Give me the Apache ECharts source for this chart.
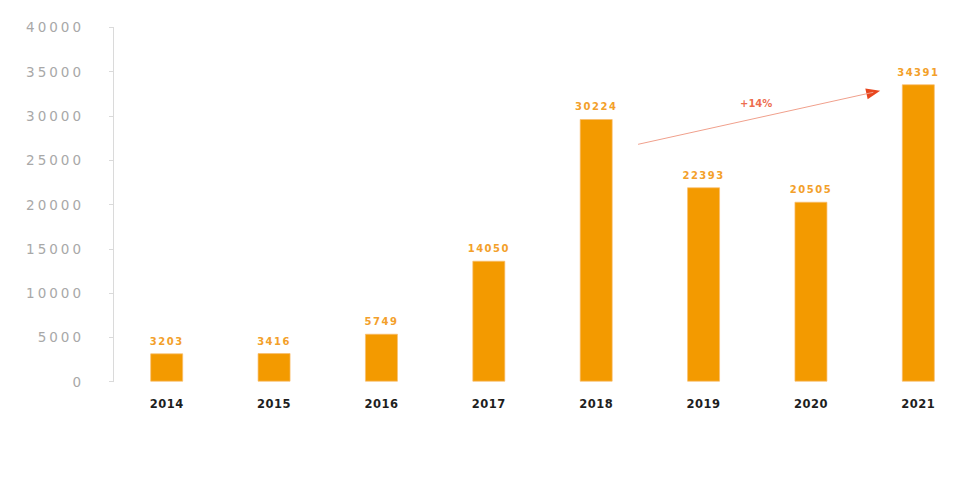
<!DOCTYPE html>
<html><head><meta charset="utf-8">
<script src="https://cdn.jsdelivr.net/npm/echarts@6/dist/echarts.min.js"></script>
<style>
html,body{margin:0;padding:0;background:#fff}
#main{width:972px;height:486px}
#main text[fill="#a8a8a8"]{letter-spacing:3px}
#main text[fill="#f3a02a"]{letter-spacing:1.5px}
#main text[fill="#1e1e1e"]{letter-spacing:0.5px}
</style></head><body><div id="main"></div>
<script>
const categories = ['2014', '2015', '2016', '2017', '2018', '2019', '2020', '2021'];
const barValues = [3203, 3230, 5420, 13660, 29660, 21950, 20320, 33580];
const valueLabels = ['3203', '3416', '5749', '14050', '30224', '22393', '20505', '34391'];
const yMin = 0, yMax = 40000, yStep = 5000;
const trendLine = [[4.39, 26800], [6.581, 32675]];
const trendHead = [[6.581, 32675]];
const trendLabelPos = [[5.49, 31430]];
const trendLabel = '+14%';

const chart = echarts.init(document.getElementById('main'), null, {renderer: 'svg'});
const font = 'DejaVu Sans';
chart.setOption({
  animation: false,
  backgroundColor: '#ffffff',
  grid: {left: 113, width: 863, top: 27.4, bottom: 104.3},
  xAxis: [{
    type: 'category', data: categories,
    axisLine: {show: false}, axisTick: {show: false},
    axisLabel: {color: '#1e1e1e', fontFamily: font, fontWeight: 'bold', fontSize: 11.5, margin: 16}
  }, {
    type: 'value', min: -0.5, max: 7.5, show: false
  }],
  yAxis: {
    type: 'value', min: yMin, max: yMax, interval: yStep,
    splitLine: {show: false},
    axisLine: {show: true, onZero: false, lineStyle: {color: '#dadada', width: 1}},
    axisTick: {show: true, length: 4, lineStyle: {color: '#dadada'}},
    axisLabel: {color: '#a8a8a8', fontFamily: font, fontSize: 13.5, margin: 29,
      formatter: v => String(v)}
  },
  series: [{
    type: 'bar', data: barValues, barWidth: 33,
    itemStyle: {color: '#f39a00', borderColor: 'rgba(250,190,110,0.7)', borderWidth: 1},
    label: {
      show: true, position: 'top', distance: 7,
      formatter: p => valueLabels[p.dataIndex],
      color: '#f3a02a', fontFamily: font, fontWeight: 'bold', fontSize: 10
    }
  }, {
    type: 'line', xAxisIndex: 1, data: trendLine, symbol: 'none',
    lineStyle: {color: '#f0a08c', width: 1}, silent: true
  }, {
    type: 'scatter', xAxisIndex: 1, data: trendHead, symbol: 'triangle',
    symbolSize: [11, 14], symbolRotate: -77.6,
    itemStyle: {color: '#e8461e', opacity: 1}, silent: true
  }, {
    type: 'scatter', xAxisIndex: 1, data: trendLabelPos, symbolSize: 0,
    label: {show: true, position: 'inside', formatter: trendLabel,
      color: '#e8461e', fontFamily: font, fontWeight: 'bold', fontSize: 10},
    silent: true
  }]
});
</script></body></html>
